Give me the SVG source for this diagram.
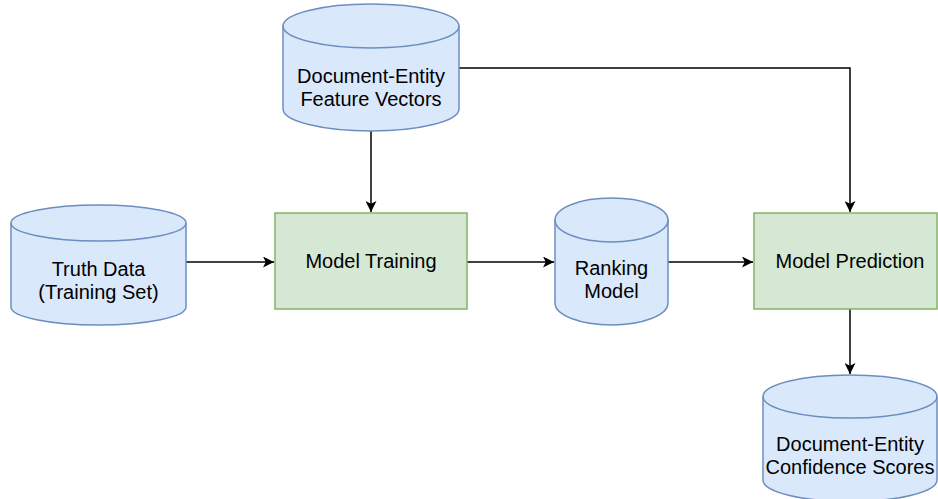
<svg xmlns="http://www.w3.org/2000/svg" width="938" height="499" viewBox="0 0 938 499">
<defs>
<style>
.cyl{fill:#dae8fc;stroke:#6c8ebf;stroke-width:1.5}
.rim{fill:none;stroke:#6c8ebf;stroke-width:1.5}
.box{fill:#d5e8d4;stroke:#82b366;stroke-width:1.5}
.lbl{font-family:"Liberation Sans",Arial,sans-serif;font-size:20px;fill:#000;text-anchor:middle}
.edge{fill:none;stroke:#000;stroke-width:1.5}
</style>
<marker id="arr" viewBox="0 0 10 10" refX="10" refY="5" markerWidth="11" markerHeight="11" markerUnits="userSpaceOnUse" orient="auto">
<path d="M0,0 L10,5 L0,10 L2.5,5 Z" fill="#000"/>
</marker>
</defs>
<rect width="938" height="499" fill="#fff"/>
<g id="connectors">
<path class="edge" d="M371,131 L371,212" marker-end="url(#arr)"/>
<path class="edge" d="M459,68 L850,68 L850,212" marker-end="url(#arr)"/>
<path class="edge" d="M186,262 L274,262" marker-end="url(#arr)"/>
<path class="edge" d="M467,262 L554,262" marker-end="url(#arr)"/>
<path class="edge" d="M668,262 L753,262" marker-end="url(#arr)"/>
<path class="edge" d="M850,309 L850,374" marker-end="url(#arr)"/>
</g>
<g id="feature-vectors">
<path class="cyl" d="M283,26 A88,22 0 0 1 459,26 L459,109 A88,22 0 0 1 283,109 Z"/>
<path class="rim" d="M283,26 A88,22 0 0 0 459,26"/>
<text class="lbl" x="371" y="83">Document-Entity</text>
<text class="lbl" x="371" y="106">Feature Vectors</text>
</g>
<g id="truth-data">
<path class="cyl" d="M11,223 A87.5,18 0 0 1 186,223 L186,307 A87.5,18 0 0 1 11,307 Z"/>
<path class="rim" d="M11,223 A87.5,18 0 0 0 186,223"/>
<text class="lbl" x="98.5" y="276">Truth Data</text>
<text class="lbl" x="98.5" y="299">(Training Set)</text>
</g>
<g id="model-training">
<rect class="box" x="275" y="213" width="192" height="96"/>
<text class="lbl" x="371" y="268">Model Training</text>
</g>
<g id="ranking-model">
<path class="cyl" d="M555,220 A56.5,22 0 0 1 668,220 L668,303 A56.5,22 0 0 1 555,303 Z"/>
<path class="rim" d="M555,220 A56.5,22 0 0 0 668,220"/>
<text class="lbl" x="611.5" y="275">Ranking</text>
<text class="lbl" x="611.5" y="298">Model</text>
</g>
<g id="model-prediction">
<rect class="box" x="754" y="213" width="183" height="96"/>
<text class="lbl" x="850" y="268">Model Prediction</text>
</g>
<g id="confidence-scores">
<path class="cyl" d="M763,396.5 A87,21.5 0 0 1 937,396.5 L937,480 A87,21.5 0 0 1 763,480 Z"/>
<path class="rim" d="M763,396.5 A87,21.5 0 0 0 937,396.5"/>
<text class="lbl" x="850" y="451">Document-Entity</text>
<text class="lbl" x="850" y="474">Confidence Scores</text>
</g>
</svg>
